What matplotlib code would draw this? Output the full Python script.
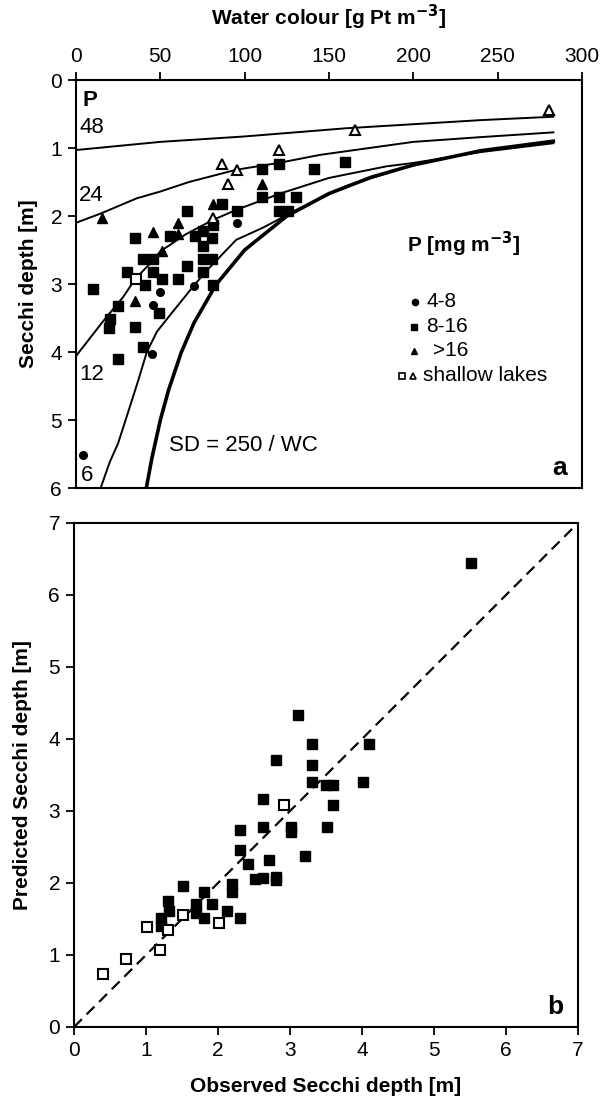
import numpy as np
import matplotlib
matplotlib.use('Agg')
import matplotlib.pyplot as plt

plt.rcParams['font.family'] = ['Liberation Sans', 'DejaVu Sans']

# ---- panel a: water colour vs Secchi depth ----
circ_wc = [95.6, 50, 45.4, 70, 45, 4]
circ_sd = [2.11, 3.12, 3.31, 3.03, 4.03, 5.51]

sq_wc = [110, 120.5, 141, 159.5, 110, 120.5, 130.4, 120.5, 125.5,
         86.4, 65.6, 95.2, 81, 35, 55.7, 70.5, 75.5, 80.4, 75.5,
         75.5, 80.4, 65.6, 75.5, 40, 45.8, 30, 45.4, 50.8, 60.7,
         41, 81, 10.3, 25, 20, 19.8, 35, 49.4, 40, 25]
sq_sd = [1.31, 1.23, 1.31, 1.20, 1.72, 1.72, 1.72, 1.92, 1.92,
         1.82, 1.92, 1.92, 2.13, 2.33, 2.30, 2.30, 2.22, 2.33, 2.44,
         2.63, 2.63, 2.74, 2.83, 2.63, 2.63, 2.83, 2.83, 2.92, 2.92,
         3.02, 3.02, 3.08, 3.32, 3.52, 3.64, 3.63, 3.42, 3.93, 4.11]

tri_wc = [15.2, 81, 110, 60.7, 60.7, 45.8, 50.8, 35]
tri_sd = [2.03, 1.82, 1.53, 2.11, 2.27, 2.23, 2.52, 3.25]

shsq_wc = [35.5]
shsq_sd = [2.93]
shtri_wc = [86.4, 95.2, 120.5, 90.3, 81, 165.4, 280.6]
shtri_sd = [1.24, 1.32, 1.03, 1.53, 2.03, 0.74, 0.44]

p48_wc = [0, 25, 50, 75, 100, 130, 160, 200, 240, 283]
p48_sd = [1.03, 0.97, 0.91, 0.87, 0.83, 0.77, 0.71, 0.65, 0.59, 0.54]
p24_wc = [0, 15, 36, 50, 67, 95, 120, 145, 200, 240, 283]
p24_sd = [2.10, 1.96, 1.74, 1.64, 1.50, 1.32, 1.22, 1.10, 0.91, 0.84, 0.77]
p12_wc = [0, 16, 28, 35, 45, 50, 65, 81, 95, 121, 150, 184, 200, 240, 283]
p12_sd = [4.06, 3.55, 3.19, 2.93, 2.67, 2.52, 2.27, 2.06, 1.91, 1.67, 1.44,
          1.27, 1.22, 1.06, 0.93]
p6_wc = [14.6, 20, 25, 32, 37, 42, 48, 56, 70, 78, 95, 111, 130, 160, 200]
p6_sd = [6.0, 5.62, 5.34, 4.8, 4.41, 4.0, 3.7, 3.45, 3.02, 2.79, 2.35,
         2.17, 1.92, 1.56, 1.25]
sd250_wc = [41.7, 45, 50, 55, 62.5, 70, 83, 100, 125, 150, 175, 200, 240, 283]
sd250_sd = [6.0, 5.56, 5.0, 4.55, 4.0, 3.57, 3.01, 2.5, 2.0, 1.67, 1.43,
            1.25, 1.04, 0.90]

# ---- panel b: observed vs predicted ----
obs_open = [0.40, 0.72, 1.02, 1.19, 1.30, 1.52, 2.02, 2.91]
pred_open = [0.74, 0.95, 1.39, 1.07, 1.35, 1.55, 1.44, 3.09]
obs_fill = [1.21, 1.21, 1.31, 1.32, 1.52, 1.70, 1.70, 1.81, 1.81, 1.91,
            2.13, 2.20, 2.20, 2.31, 2.31, 2.31, 2.42, 2.52, 2.63, 2.71,
            2.81, 2.81, 2.62, 2.62, 3.01, 3.01, 3.21, 2.81, 3.11, 3.31,
            3.31, 3.31, 3.50, 3.60, 3.60, 3.52, 4.02, 4.10, 5.51]
pred_fill = [1.52, 1.40, 1.75, 1.61, 1.96, 1.71, 1.58, 1.87, 1.51, 1.71,
             1.61, 1.98, 1.88, 1.51, 2.46, 2.74, 2.27, 2.05, 2.07, 2.32,
             2.09, 2.04, 3.17, 2.78, 2.78, 2.71, 2.37, 3.71, 4.34, 3.93,
             3.64, 3.40, 3.36, 3.36, 3.09, 2.78, 3.40, 3.93, 6.44]

fig = plt.figure(figsize=(6.03, 11.0), dpi=100)

def box(l, r, t, b):
    return [l / 603, 1 - b / 1100, (r - l) / 603, (b - t) / 1100]

ax1 = fig.add_axes(box(76, 582, 80, 488))
ax2 = fig.add_axes(box(74, 578, 523, 1027))

lw_thin = 1.4
ax1.plot(p48_wc, p48_sd, color='k', lw=lw_thin)
ax1.plot(p24_wc, p24_sd, color='k', lw=lw_thin)
ax1.plot(p12_wc, p12_sd, color='k', lw=lw_thin)
ax1.plot(p6_wc, p6_sd, color='k', lw=lw_thin)
ax1.plot(sd250_wc, sd250_sd, color='k', lw=2.6)

ax1.plot(circ_wc, circ_sd, 'o', color='k', ms=5.5, ls='none')
ax1.plot(sq_wc, sq_sd, 's', color='k', ms=6.5, ls='none')
ax1.plot(tri_wc, tri_sd, '^', color='k', ms=6.5, ls='none')
ax1.plot(shsq_wc, shsq_sd, 's', mfc='white', mec='k', mew=1.5, ms=6.5, ls='none')
ax1.plot(shtri_wc, shtri_sd, '^', mfc='white', mec='k', mew=1.5, ms=6.5, ls='none')

ax1.set_xlim(0, 300)
ax1.set_ylim(6, 0)
ax1.xaxis.tick_top()
ax1.xaxis.set_label_position('top')
ax1.set_xticks([0, 50, 100, 150, 200, 250, 300])
ax1.set_yticks([0, 1, 2, 3, 4, 5, 6])
ax1.set_xlabel('Water colour [g Pt m$^{\\mathbf{-3}}$]', fontsize=15,
               fontweight='bold', labelpad=16)
ax1.set_ylabel('Secchi depth [m]', fontsize=15, fontweight='bold', labelpad=9)

ax1.text(4, 0.3, 'P', fontsize=16, fontweight='bold', va='center')
ax1.text(2, 0.7, '48', fontsize=16, va='center')
ax1.text(2, 1.7, '24', fontsize=16, va='center')
ax1.text(2, 4.33, '12', fontsize=16, va='center')
ax1.text(3, 5.82, '6', fontsize=16, va='center')
ax1.text(55, 5.38, 'SD = 250 / WC', fontsize=16, va='center')
ax1.text(0.97, 0.05, 'a', transform=ax1.transAxes, fontsize=19,
         fontweight='bold', ha='right', va='center')

# legend drawn by hand
t = ax1.transAxes
ax1.text(0.655, 0.596, 'P [mg m$^{\\mathbf{-3}}$]', transform=t, fontsize=15,
         fontweight='bold', va='center')
ax1.plot([0.670], [0.456], 'o', color='k', ms=4.5, transform=t, clip_on=False)
ax1.text(0.692, 0.456, '4-8', transform=t, fontsize=15, va='center')
ax1.plot([0.668], [0.395], 's', color='k', ms=5, transform=t, clip_on=False)
ax1.text(0.692, 0.395, '8-16', transform=t, fontsize=15, va='center')
ax1.plot([0.668], [0.336], '^', color='k', ms=5, transform=t, clip_on=False)
ax1.text(0.705, 0.336, '>16', transform=t, fontsize=15, va='center')
ax1.plot([0.644], [0.275], 's', mfc='white', mec='k', mew=1.2, ms=4.5,
         transform=t, clip_on=False)
ax1.plot([0.666], [0.275], '^', mfc='white', mec='k', mew=1.2, ms=4.5,
         transform=t, clip_on=False)
ax1.text(0.685, 0.275, 'shallow lakes', transform=t, fontsize=15, va='center')

ax2.plot([0, 7], [0, 7], color='k', lw=1.6, ls=(0, (5, 3)))
ax2.plot(obs_fill, pred_fill, 's', color='k', ms=6.5, ls='none')
ax2.plot(obs_open, pred_open, 's', mfc='white', mec='k', mew=1.5, ms=6.5, ls='none')
ax2.set_xlim(0, 7)
ax2.set_ylim(0, 7)
ax2.set_xticks(range(8))
ax2.set_yticks(range(8))
ax2.set_xlabel('Observed Secchi depth [m]', fontsize=15, fontweight='bold',
               labelpad=12)
ax2.set_ylabel('Predicted Secchi depth [m]', fontsize=15, fontweight='bold',
               labelpad=12)
ax2.text(0.97, 0.04, 'b', transform=ax2.transAxes, fontsize=19,
         fontweight='bold', ha='right', va='center')

for ax in (ax1, ax2):
    for s in ax.spines.values():
        s.set_linewidth(1.5)
    ax.tick_params(direction='out', length=6, width=1.3, labelsize=15, pad=4)

fig.savefig('out.png', dpi=100)
